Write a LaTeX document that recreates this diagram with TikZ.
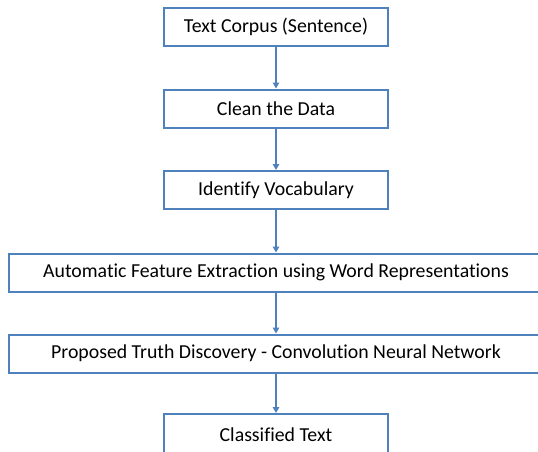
\documentclass[tikz,border=0pt]{standalone}
\usepackage{fontspec}
\setmainfont[Ligatures={NoCommon}]{Carlito}
\usetikzlibrary{arrows.meta}
\definecolor{boxblue}{HTML}{4F81BD}
\begin{document}
\begin{tikzpicture}[x=1pt,y=1pt,
  stepbox/.style={draw=boxblue,line width=2pt,fill=white,minimum height=38pt,inner sep=0pt,font=\fontsize{19.8}{22}\selectfont,text=black},
  smallbox/.style={stepbox,minimum width=224pt},
  widebox/.style={stepbox,minimum width=534pt},
  conn/.style={draw=boxblue,line width=2pt,-{Triangle[length=6pt,width=6.5pt]}}]
\useasboundingbox (0,0) rectangle (538,-452);
\clip (0,0) rectangle (538,-452);
\node[smallbox] (b1) at (276,-27) {Text Corpus (Sentence)};
\node[smallbox] (b2) at (276,-108.5) {Clean the Data};
\node[smallbox] (b3) at (276,-190) {Identify Vocabulary};
\node[widebox] (b4) at (276,-272.5) {Automatic Feature Extraction using Word Representations};
\node[widebox] (b5) at (276,-353.5) {Proposed Truth Discovery - Convolution Neural Network};
\node[smallbox,minimum height=42pt] (b6) at (276,-435) {Classified Text};
\draw[conn] (b1) -- (b2);
\draw[conn] (b2) -- (b3);
\draw[conn] (b3) -- (b4);
\draw[conn] (b4) -- (b5);
\draw[conn] (b5) -- (b6);
\end{tikzpicture}
\end{document}
